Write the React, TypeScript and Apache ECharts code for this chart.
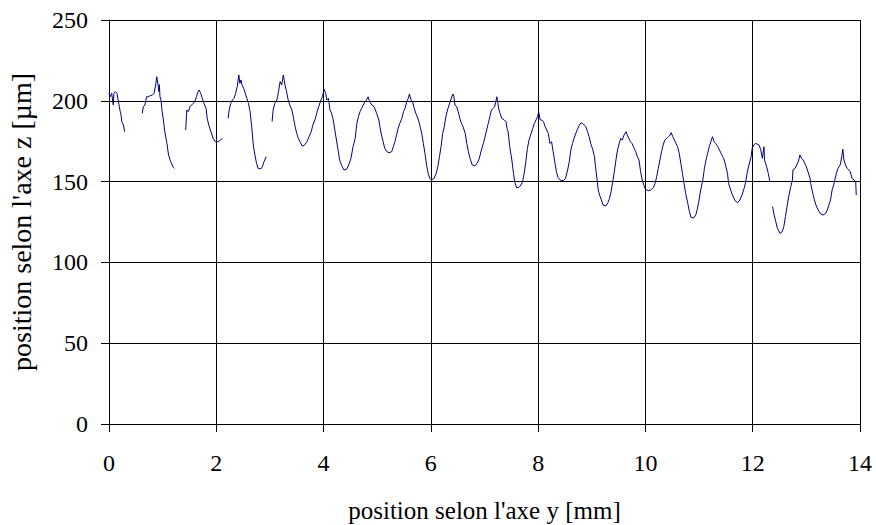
import React, { useEffect, useRef } from "react";
import * as echarts from "echarts";

// x: position selon l'axe y [mm], z: position selon l'axe z [µm]
const seg1: number[][] = [[0.00,204.6],[0.02,202.5],[0.05,204.6],[0.08,197.4],[0.09,204.6],[0.12,205.7],[0.15,204.6],[0.17,200.5],[0.21,193.3],[0.22,192.3],[0.24,187],[0.27,185],[0.29,180.9]];
const seg2: number[][] = [[0.62,192.2],[0.64,196.4],[0.67,197.4],[0.70,202.5],[0.73,202.5],[0.76,203],[0.81,203.6],[0.84,204.6],[0.87,209.8],[0.89,214.9],[0.91,210.8],[0.93,205.7],[0.94,210],[0.95,202.5],[0.97,200.5],[0.99,193.3],[1.01,189.2],[1.04,180.9],[1.08,173.7],[1.11,166.5],[1.15,162.3],[1.20,158.8],[1.22,158.2]];
const seg3: number[][] = [[1.43,181.9],[1.45,194.3],[1.48,193.3],[1.51,196.4],[1.54,197.4],[1.57,198.4],[1.60,199.5],[1.63,202.5],[1.66,205.7],[1.68,206.7],[1.71,204.6],[1.74,201.5],[1.77,198.4],[1.81,195.3],[1.83,189.2],[1.86,185],[1.90,180.9],[1.94,176.8],[1.98,174.7],[2.04,174.7],[2.08,175.7],[2.11,176.8]];
const seg4: number[][] = [[2.22,189.2],[2.24,194.3],[2.27,198.4],[2.30,200.5],[2.33,201.5],[2.36,204.6],[2.39,208.8],[2.42,216],[2.44,210.8],[2.46,212.9],[2.48,209.8],[2.51,207.7],[2.53,205.7],[2.57,201.5],[2.60,198.4],[2.63,193.3],[2.66,184],[2.69,172.6],[2.72,166.5],[2.75,161.3],[2.78,158.2],[2.83,157.8],[2.86,159.2],[2.89,162.3],[2.93,165.4]];
const seg5a: number[][] = [[3.04,187.1],[3.06,194.3],[3.09,198.4],[3.13,200.5],[3.16,205.7],[3.19,211.9],[3.22,209.8],[3.25,216],[3.28,209.8],[3.31,205.7],[3.34,200.5],[3.37,197.4],[3.41,194.3],[3.44,189.2],[3.47,184],[3.50,179.8],[3.53,176.8],[3.56,174.7],[3.60,172],[3.64,172.4],[3.69,174.7],[3.73,177.8],[3.77,180.9],[3.80,185],[3.84,188.2],[3.88,193.3],[3.91,196.4],[3.95,200.5],[3.98,202.5],[4.01,207.1],[4.04,204.6],[4.06,200.5],[4.09,201.5],[4.12,194.3],[4.15,192.3],[4.18,188.2],[4.21,181.9],[4.24,175.7],[4.27,169.6],[4.30,163.4],[4.34,159.7],[4.38,157.2],[4.43,157.6],[4.47,160.3],[4.51,164.4],[4.55,171.6],[4.59,176.8],[4.62,186],[4.65,190.2],[4.68,193.3],[4.71,195.3],[4.74,197.4],[4.77,199.4],[4.80,200.5],[4.83,202.5],[4.86,199.4],[4.90,197.4],[4.94,196.4],[4.99,192.2],[5.03,188.1],[5.05,184],[5.08,178.8],[5.11,174.7],[5.14,170.6],[5.18,168.5],[5.22,167.9],[5.27,168.5],[5.30,171.6],[5.33,174.7],[5.36,178.8],[5.39,182.9],[5.42,186],[5.46,189.2],[5.49,193.3],[5.52,195.3],[5.55,199.4],[5.58,201.5],[5.60,204.2],[5.63,200.5],[5.66,199.4],[5.69,195.3],[5.72,192.2],[5.77,188.1],[5.80,184],[5.83,179.8],[5.86,173.6],[5.89,167.5],[5.92,160.3],[5.95,155.1],[5.98,152]];
const seg5b: number[][] = [[6.01,151],[6.06,152],[6.10,155.1],[6.13,159.2],[6.16,165.4],[6.19,171.6],[6.22,179.8],[6.25,184],[6.28,190.2],[6.31,194.3],[6.34,197.4],[6.37,200.5],[6.41,204.2],[6.43,202.5],[6.45,197.4],[6.48,196.4],[6.51,193.3],[6.54,189.2],[6.57,186],[6.60,184],[6.64,179.8],[6.67,173.6],[6.70,168.5],[6.73,164.4],[6.77,160.3],[6.82,159.7],[6.86,161.3],[6.90,164],[6.95,170.6],[6.98,173.6],[7.01,177.8],[7.04,181.9],[7.07,186],[7.10,190.2],[7.13,194.3],[7.16,195.3],[7.19,196.4],[7.23,202.5],[7.25,198.4],[7.27,194.3],[7.29,192.3],[7.32,189.2],[7.37,188.1],[7.40,187.1],[7.42,183],[7.44,180.9],[7.47,171.6],[7.51,163.4],[7.54,155.1],[7.57,148.9],[7.60,146.2],[7.64,146.4],[7.68,147.9],[7.71,150],[7.74,155.1],[7.77,162.3],[7.80,170.6],[7.83,175.7],[7.87,179.8],[7.90,183],[7.93,186],[7.96,188.1],[7.99,190.2],[8.01,193.3],[8.04,188.1],[8.07,188.1],[8.10,187.1],[8.13,184],[8.16,181.9],[8.19,179.8],[8.22,173.6],[8.25,174.7],[8.28,168.5],[8.31,162.3],[8.34,156.1],[8.37,152.6],[8.42,150.6],[8.47,150.6],[8.51,152],[8.55,157.2],[8.58,162.3],[8.61,169.6],[8.64,173.6],[8.67,176.8],[8.70,179.8],[8.74,182.9],[8.77,185],[8.80,186.4],[8.83,186],[8.86,185],[8.89,184],[8.92,181],[8.95,177.8],[8.98,173.6]];
const seg5c: number[][] = [[9.02,169.6],[9.05,165.4],[9.07,159.2],[9.10,151],[9.12,144.8],[9.15,141.2],[9.18,138.6],[9.21,135.5],[9.26,134.9],[9.30,136.9],[9.33,139.6],[9.36,143.8],[9.39,149.9],[9.42,156.1],[9.45,163.4],[9.48,169.6],[9.51,173.6],[9.54,176.8],[9.57,175.7],[9.60,178.8],[9.64,180.9],[9.66,178.8],[9.69,176.8],[9.72,174.7],[9.75,173.6],[9.79,170.6],[9.82,168.5],[9.85,165.4],[9.88,163.4],[9.91,156.1],[9.94,151],[9.97,147.9],[10.00,145.2],[10.05,144.4],[10.10,144.8],[10.15,146.4],[10.18,148.9],[10.21,153.1],[10.24,158.2],[10.27,163.4],[10.30,168.5],[10.33,172.6],[10.36,175.7],[10.40,176.8],[10.43,177.8],[10.46,178.8],[10.48,180.3],[10.51,177.8],[10.54,175.7],[10.57,173.6],[10.60,171.6],[10.63,167.5],[10.66,161.3],[10.69,155.1],[10.72,148.9],[10.75,142.7],[10.79,136.5],[10.82,131.4],[10.85,127.9],[10.90,127.5],[10.94,129.4],[10.97,133.5],[11.00,138.6],[11.03,144.8],[11.07,151],[11.10,158.2],[11.13,163.4],[11.16,167.5],[11.19,171.6],[11.22,174.7],[11.25,177.8],[11.28,174.7],[11.31,173.6],[11.35,171.6],[11.38,169.6],[11.41,167.5],[11.44,165.4],[11.47,163.4],[11.50,159.2],[11.53,155.1],[11.55,148.9],[11.61,142.7],[11.67,138.2],[11.72,136.9],[11.76,138.6],[11.80,141.7],[11.84,145.8],[11.87,149.9],[11.90,156.1],[11.93,160.3],[11.97,165.4],[11.99,170.6],[12.02,172.6],[12.05,173.6],[12.08,173.3],[12.12,172.6],[12.15,169.6],[12.18,164.4],[12.21,171.6],[12.22,163.4],[12.26,159.2],[12.29,155.1],[12.32,150]];
const seg6: number[][] = [[12.37,134.5],[12.40,129.3],[12.43,125.2],[12.46,121.1],[12.51,118],[12.55,119],[12.58,122.1],[12.61,128.3],[12.64,134.5],[12.67,140.7],[12.71,146.9],[12.74,151],[12.75,157.2],[12.79,158.2],[12.82,160.3],[12.85,162.3],[12.88,166.5],[12.91,164.4],[12.94,163.4],[12.97,161.3],[13.00,159.2],[13.03,156.1],[13.07,152],[13.08,148.9],[13.12,142.7],[13.15,138.6],[13.18,135.5],[13.22,132.4],[13.27,129.9],[13.31,129.3],[13.36,130.3],[13.39,132.4],[13.42,135.5],[13.45,138.6],[13.48,144.8],[13.51,147.9],[13.53,151],[13.56,155.1],[13.59,158.2],[13.63,160.3],[13.66,165.4],[13.68,170],[13.70,163.4],[13.73,160.3],[13.76,158.2],[13.79,157.2],[13.82,156.1],[13.85,152],[13.89,151],[13.92,150],[13.93,141.7]];

const xTicksInterval = 2;
const yTicksInterval = 50;
const xTitle = "position selon l'axe y [mm]";
const yTitle = "position selon l'axe z [µm]";

const FONT = "'Liberation Serif', 'DejaVu Serif', serif";

export default function App() {
  const ref = useRef<HTMLDivElement>(null);
  useEffect(() => {
    document.body.style.margin = "0";
    const chart = echarts.init(ref.current!, null, { renderer: "svg" });
    const segments = [seg1, seg2, seg3, seg4, [...seg5a, ...seg5b, ...seg5c], seg6];
    chart.setOption({
      animation: false,
      backgroundColor: "#fff",
      grid: { left: 109, right: 16, top: 20, bottom: 101, containLabel: false, outerBoundsMode: "none" },
      xAxis: {
        type: "value",
        min: 0,
        max: 14,
        interval: xTicksInterval,
        name: xTitle,
        nameLocation: "middle",
        nameGap: 73,
        nameTextStyle: { fontFamily: FONT, fontSize: 25, color: "#000", lineHeight: 26 },
        axisLine: { show: true, onZero: false, lineStyle: { color: "#000", width: 1 } },
        axisTick: { show: true, length: 8, lineStyle: { color: "#000" } },
        axisLabel: { margin: 27, fontFamily: FONT, fontSize: 24, color: "#000" },
        splitLine: { show: true, lineStyle: { color: "#000", width: 1 } },
      },
      yAxis: {
        type: "value",
        min: 0,
        max: 250,
        interval: yTicksInterval,
        name: yTitle,
        nameLocation: "middle",
        nameRotate: 90,
        nameGap: 74,
        nameTextStyle: { fontFamily: FONT, fontSize: 28, color: "#000" },
        axisLine: { show: true, lineStyle: { color: "#000", width: 1 } },
        axisTick: { show: true, length: 8, lineStyle: { color: "#000" } },
        axisLabel: { margin: 21, fontFamily: FONT, fontSize: 24, color: "#000" },
        splitLine: { show: true, lineStyle: { color: "#000", width: 1 } },
      },
      series: segments.map((d, i) => ({
        name: "s" + i,
        type: "line",
        data: d,
        symbol: "none",
        silent: true,
        lineStyle: { color: "#000080", width: 1 },
      })),
    });
    return () => chart.dispose();
  }, []);
  return <div ref={ref} style={{ width: 876, height: 525 }} />;
}
